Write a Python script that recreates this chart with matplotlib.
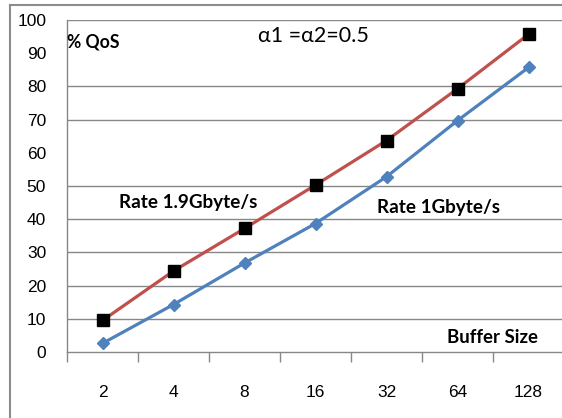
import matplotlib

matplotlib.use("Agg")

import matplotlib.pyplot as plt  # noqa: E402
from matplotlib.lines import Line2D  # noqa: E402

# ---------------------------------------------------------------- data
buffer_sizes = ["2", "4", "8", "16", "32", "64", "128"]
rate_19 = [9.5, 24.4, 37.2, 50.3, 63.7, 79.3, 95.7]
rate_1 = [2.6, 14.3, 26.8, 38.7, 52.8, 69.7, 85.7]
y_ticks = [0, 10, 20, 30, 40, 50, 60, 70, 80, 90, 100]
hidden_grid = [60, 90]

RED, BLUE = "#c0504d", "#4f81bd"
GRID, FRAME = "#878787", "#8c8c8c"
CAL = ["Lato", "DejaVu Sans"]

W, H = 562, 418
fig = plt.figure(figsize=(W / 100, H / 100), dpi=100)
ax = fig.add_axes([67 / W, 66 / H, 497 / W, 332 / H])

xs = list(range(len(buffer_sizes)))
ax.plot(xs, rate_19, color=RED, lw=2.3, marker="s", ms=8, mfc="black", mec="black", zorder=4)
ax.plot(xs, rate_1, color=BLUE, lw=2.3, marker="D", ms=6.5, mfc=BLUE, mec=BLUE, zorder=4)

ax.set_xlim(-0.5, len(buffer_sizes) - 0.5)
ax.set_ylim(0, 100)
ax.set_xticks(xs)
ax.set_xticklabels(buffer_sizes)
ax.set_xticks([i - 0.5 for i in range(len(buffer_sizes))], minor=True)
ax.set_yticks(y_ticks)
# tick marks only where a gridline is drawn (60 and 90 are absent in the original)
shown = [v for v in y_ticks if v not in hidden_grid]
ax.set_yticks(shown, minor=True)

ax.tick_params(axis="x", which="major", length=0, pad=24, labelsize=12.5, labelfontfamily="Liberation Sans")
ax.tick_params(axis="x", which="minor", length=7, width=1, color=GRID, direction="out")
ax.tick_params(axis="y", which="major", length=0, pad=15, labelsize=12.5, labelfontfamily="Liberation Sans")
ax.tick_params(axis="y", which="minor", length=7, width=1, color=GRID, direction="out")

for val in shown:
    if val > 0:
        ax.axhline(val, color=GRID, lw=1, zorder=1)

for s in ["top", "right"]:
    ax.spines[s].set_visible(False)
for s in ["left", "bottom"]:
    ax.spines[s].set_color(GRID)
    ax.spines[s].set_linewidth(1)

# ---------------------------------------------------------------- labels
ax.text(-0.5, 93.4, "% QoS", ha="left", va="center", fontsize=12.7, fontweight="bold", family=CAL)
ax.text(2.19, 95.2, "α1 =α2=0.5", ha="left", va="center", fontsize=15.5, family=CAL)
ax.text(0.23, 44.9, "Rate 1.9Gbyte/s", ha="left", va="center", fontsize=13.6, fontweight="bold", family=CAL)
ax.text(3.87, 43.4, "Rate 1Gbyte/s", ha="left", va="center", fontsize=13.6, fontweight="bold", family=CAL)
ax.text(4.85, 4.5, "Buffer Size", ha="left", va="center", fontsize=13.4, fontweight="bold", family=CAL)

# ---------------------------------------------------------------- outer frame (left + top only)
fig.add_artist(Line2D([10 / W, 10 / W], [0, (H - 5) / H], color=FRAME, lw=1.5))
fig.add_artist(Line2D([10 / W, 1], [(H - 5) / H, (H - 5) / H], color=FRAME, lw=1.5))

fig.savefig("out.png", dpi=100, facecolor="white")
